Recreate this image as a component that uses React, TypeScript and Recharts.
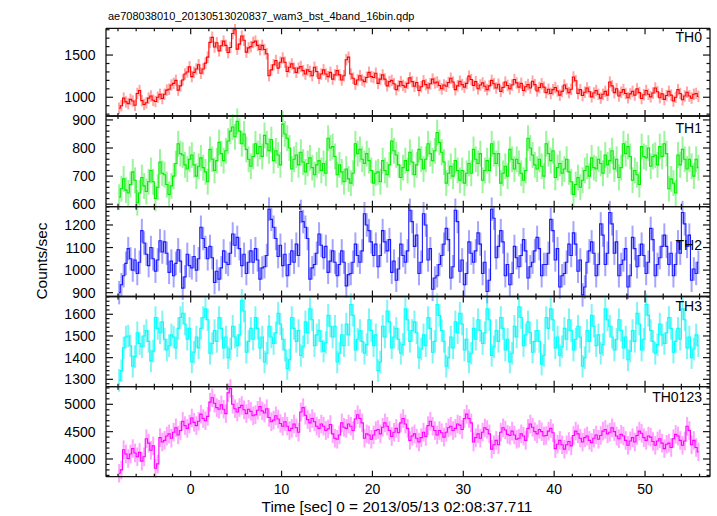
import React from "react";
import { LineChart, Line, XAxis, YAxis, ErrorBar } from "recharts";

// light curve bins: 0.25 s wide, first bin centred at -7.875 s
const BIN_START = -7.875;
const BIN_WIDTH = 0.25;

const TH0 = [
  870, 900, 990, 945, 925, 975, 955, 905, 1045, 1080, 960, 915, 935, 990, 1015, 965, 950, 1000, 1035, 985,
  1035, 1085, 1095, 1145, 1165, 1200, 1085, 1135, 1205, 1275, 1300, 1360, 1245, 1295, 1335, 1385, 1285, 1335, 1405, 1475,
  1650, 1710, 1595, 1645, 1550, 1610, 1665, 1615, 1530, 1590, 1755, 1800, 1570, 1630, 1725, 1675, 1535, 1585, 1600, 1650,
  1665, 1615, 1565, 1615, 1565, 1515, 1255, 1325, 1385, 1435, 1345, 1415, 1465, 1415, 1305, 1355, 1395, 1345, 1295, 1345,
  1365, 1315, 1275, 1325, 1305, 1255, 1355, 1305, 1225, 1275, 1325, 1275, 1245, 1295, 1215, 1265, 1315, 1265, 1205, 1255,
  1445, 1475, 1275, 1225, 1155, 1205, 1255, 1205, 1185, 1235, 1295, 1245, 1235, 1285, 1165, 1215, 1265, 1215, 1135, 1185,
  1200, 1160, 1090, 1135, 1185, 1140, 1120, 1165, 1230, 1185, 1130, 1175, 1080, 1125, 1195, 1150, 1110, 1160, 1215, 1170,
  1180, 1140, 1100, 1145, 1130, 1175, 1225, 1180, 1090, 1135, 1190, 1150, 1120, 1165, 1250, 1210, 1140, 1185, 1100, 1145,
  1170, 1130, 1090, 1135, 1200, 1160, 1110, 1155, 1070, 1115, 1180, 1140, 1100, 1145, 1210, 1170, 1120, 1165, 1080, 1125,
  1150, 1110, 1190, 1150, 1075, 1115, 1160, 1120, 1055, 1095, 1045, 1090, 1115, 1075, 1025, 1070, 1145, 1100, 1055, 1095,
  1240, 1195, 1045, 1090, 1020, 1060, 1110, 1065, 1005, 1050, 1080, 1035, 990, 1035, 1070, 1025, 1180, 1135, 1055, 1100,
  1015, 1060, 1090, 1045, 995, 1040, 1070, 1025, 1100, 1055, 985, 1030, 1080, 1035, 1005, 1050, 1110, 1065, 995, 1040,
  975, 1020, 1070, 1025, 955, 1000, 1090, 1045, 970, 1015, 1060, 1015, 990, 1035, 1045, 1010,
];

const TH1 = [
  625, 655, 690, 650, 640, 670, 715, 685, 605, 640, 695, 665, 645, 680, 720, 680, 620, 660, 750, 710,
  705, 670, 635, 665, 700, 745, 815, 780, 775, 740, 725, 760, 775, 740, 700, 735, 765, 730, 715, 680,
  795, 760, 720, 755, 820, 780, 755, 790, 825, 860, 875, 840, 895, 860, 815, 850, 795, 760, 735, 770,
  815, 780, 805, 770, 845, 815, 790, 830, 755, 790, 775, 740, 885, 850, 835, 800, 725, 760, 775, 740,
  785, 750, 715, 745, 765, 730, 705, 740, 755, 720, 745, 710, 835, 800, 805, 770, 705, 740, 715, 680,
  725, 690, 675, 710, 815, 780, 795, 760, 745, 780, 755, 720, 675, 710, 715, 680, 755, 720, 705, 740,
  825, 790, 775, 740, 695, 730, 755, 720, 785, 750, 705, 740, 795, 760, 725, 760, 815, 780, 755, 790,
  855, 820, 785, 750, 675, 710, 735, 700, 755, 720, 685, 720, 675, 710, 745, 710, 795, 760, 745, 780,
  685, 720, 755, 720, 815, 780, 745, 780, 675, 710, 735, 700, 795, 760, 725, 760, 745, 710, 685, 720,
  835, 800, 775, 740, 725, 760, 735, 700, 815, 780, 755, 790, 695, 730, 745, 710, 725, 760, 715, 680,
  635, 670, 695, 660, 685, 720, 735, 700, 765, 730, 725, 760, 745, 710, 775, 740, 755, 790, 725, 760,
  695, 730, 815, 780, 805, 770, 685, 720, 705, 670, 805, 770, 765, 800, 735, 770, 775, 740, 805, 770,
  815, 780, 655, 690, 675, 640, 775, 740, 795, 760, 725, 760, 735, 700, 760, 730,
];

const TH2 = [
  900, 935, 975, 1030, 1095, 1050, 1000, 1045, 985, 1035, 1175, 1120, 1070, 1020, 1100, 1050, 995, 1045, 1130, 1080,
  1125, 1075, 990, 1040, 975, 1030, 1090, 1040, 920, 970, 1070, 1020, 1010, 1060, 1000, 1050, 1190, 1140, 1100, 1050,
  1105, 1055, 945, 995, 960, 1010, 1085, 1035, 1025, 1075, 1160, 1110, 1145, 1095, 1020, 1070, 985, 1035, 1085, 1035,
  1095, 1045, 960, 1010, 1015, 1065, 1270, 1225, 1190, 1140, 1060, 1110, 1020, 1070, 975, 1025, 1085, 1035, 1115, 1065,
  1260, 1215, 1190, 1140, 960, 1010, 1025, 1075, 1160, 1110, 1055, 1105, 990, 1040, 1085, 1035, 975, 1025, 1085, 1035,
  930, 980, 985, 1035, 1115, 1065, 1035, 1085, 1250, 1200, 1175, 1125, 1065, 1115, 1015, 1065, 1175, 1125, 1085, 1135,
  990, 1040, 955, 1005, 1115, 1065, 1035, 1085, 1265, 1215, 1105, 1155, 985, 1035, 1250, 1200, 1045, 1095, 915, 965,
  975, 1025, 1065, 1115, 1185, 1135, 965, 1015, 1265, 1215, 995, 1045, 935, 985, 1125, 1075, 1035, 1085, 1165, 1115,
  985, 1035, 905, 955, 1270, 1230, 1055, 1105, 1175, 1125, 975, 1025, 935, 985, 1105, 1055, 1015, 1065, 1135, 1085,
  965, 1015, 1035, 1085, 1145, 1095, 975, 1025, 1025, 1075, 1225, 1175, 1045, 1095, 925, 975, 985, 1035, 1115, 1065,
  1165, 1115, 995, 1045, 890, 925, 1035, 1085, 1125, 1075, 975, 1025, 1205, 1155, 1025, 1075, 1255, 1205, 1075, 1125,
  975, 1025, 1045, 1095, 925, 975, 1145, 1095, 1015, 1065, 1115, 1065, 985, 1035, 1185, 1135, 975, 1025, 1055, 1105,
  1155, 1105, 1025, 1075, 975, 1025, 1125, 1075, 1255, 1205, 1105, 1155, 955, 1005, 985, 1035,
];

const TH3 = [
  1295, 1340, 1445, 1495, 1500, 1455, 1360, 1405, 1515, 1465, 1450, 1500, 1525, 1475, 1385, 1430, 1585, 1535, 1515, 1565,
  1485, 1435, 1455, 1505, 1495, 1445, 1535, 1585, 1605, 1555, 1485, 1535, 1380, 1425, 1495, 1445, 1535, 1585, 1625, 1575,
  1420, 1465, 1525, 1475, 1585, 1535, 1445, 1495, 1400, 1440, 1545, 1495, 1455, 1505, 1665, 1615, 1425, 1475, 1535, 1485,
  1585, 1535, 1445, 1495, 1380, 1420, 1545, 1495, 1465, 1515, 1605, 1555, 1485, 1435, 1350, 1390, 1585, 1535, 1475, 1525,
  1410, 1450, 1565, 1515, 1625, 1575, 1455, 1505, 1525, 1475, 1430, 1470, 1595, 1545, 1495, 1545, 1380, 1420, 1505, 1455,
  1555, 1505, 1645, 1595, 1435, 1485, 1525, 1475, 1420, 1460, 1575, 1525, 1455, 1505, 1340, 1380, 1545, 1495, 1615, 1565,
  1445, 1495, 1535, 1485, 1420, 1460, 1625, 1575, 1475, 1525, 1565, 1515, 1400, 1440, 1505, 1455, 1585, 1535, 1425, 1475,
  1645, 1595, 1525, 1475, 1360, 1400, 1495, 1445, 1565, 1515, 1605, 1555, 1435, 1485, 1380, 1420, 1535, 1485, 1575, 1525,
  1465, 1515, 1625, 1575, 1410, 1450, 1525, 1475, 1585, 1535, 1435, 1485, 1380, 1420, 1545, 1495, 1635, 1585, 1455, 1505,
  1565, 1515, 1425, 1475, 1525, 1475, 1370, 1410, 1585, 1535, 1625, 1575, 1445, 1495, 1410, 1450, 1535, 1485, 1575, 1525,
  1435, 1485, 1545, 1495, 1360, 1400, 1525, 1475, 1595, 1545, 1455, 1505, 1420, 1460, 1625, 1575, 1545, 1495, 1435, 1485,
  1575, 1525, 1445, 1495, 1390, 1430, 1525, 1475, 1605, 1555, 1435, 1485, 1645, 1595, 1525, 1475, 1420, 1460, 1555, 1505,
  1465, 1515, 1585, 1535, 1425, 1475, 1535, 1485, 1625, 1575, 1445, 1495, 1400, 1440, 1505, 1455,
];

const TH0123 = [
  3740, 3800, 4170, 4090, 4010, 4090, 4190, 4110, 4040, 4120, 3960, 4040, 4370, 4290, 4160, 4240, 3830, 3910, 4390, 4310,
  4340, 4420, 4460, 4380, 4490, 4570, 4440, 4520, 4690, 4610, 4560, 4640, 4750, 4670, 4610, 4690, 4820, 4740, 4700, 4780,
  5040, 5120, 5020, 4940, 4910, 4990, 4910, 4830, 5210, 5290, 5000, 4920, 4860, 4940, 4980, 4900, 4830, 4910, 4870, 4790,
  4810, 4890, 4960, 4880, 4840, 4920, 4760, 4680, 4710, 4790, 4730, 4650, 4600, 4680, 4600, 4520, 4560, 4640, 4570, 4490,
  4860, 4940, 4800, 4720, 4660, 4740, 4680, 4600, 4560, 4640, 4600, 4520, 4550, 4630, 4460, 4380, 4360, 4440, 4660, 4580,
  4560, 4640, 4600, 4520, 4730, 4810, 4740, 4660, 4380, 4460, 4440, 4360, 4440, 4520, 4540, 4460, 4580, 4660, 4600, 4520,
  4410, 4490, 4560, 4480, 4660, 4740, 4640, 4560, 4340, 4420, 4460, 4380, 4310, 4390, 4490, 4410, 4610, 4690, 4600, 4520,
  4440, 4520, 4480, 4400, 4490, 4570, 4600, 4520, 4560, 4640, 4620, 4540, 4740, 4820, 4740, 4660, 4310, 4390, 4460, 4380,
  4490, 4570, 4540, 4460, 4180, 4260, 4340, 4260, 4490, 4570, 4530, 4450, 4430, 4510, 4440, 4360, 4380, 4460, 4420, 4340,
  4560, 4640, 4580, 4500, 4460, 4540, 4500, 4420, 4430, 4510, 4560, 4480, 4190, 4270, 4340, 4260, 4180, 4260, 4320, 4240,
  4430, 4510, 4460, 4380, 4310, 4390, 4420, 4340, 4300, 4380, 4440, 4360, 4430, 4510, 4540, 4460, 4490, 4570, 4500, 4420,
  4370, 4450, 4420, 4340, 4250, 4330, 4390, 4310, 4430, 4510, 4470, 4390, 4340, 4420, 4400, 4320, 4250, 4330, 4370, 4290,
  4190, 4270, 4290, 4210, 4370, 4450, 4420, 4340, 4250, 4330, 4600, 4520, 4260, 4340, 4210, 4130,
];

// 1-sigma errors per band (counts/sec)
const ERR = [68, 46, 52, 52, 170];

const X_MAJOR = [0, 10, 20, 30, 40, 50];
const X_LABELS = ["0", "10", "20", "30", "40", "50"];

const steps = (a: number, b: number, s: number) => {
  const out: number[] = [];
  for (let v = a; v <= b + 1e-9; v += s) out.push(Math.round(v * 100) / 100);
  return out;
};

const W = 717;
const H = 516;
const LEFT = 106;
const RIGHT = 710;
const X_DOMAIN = [-9.32, 57.15];
const X_TICKS = steps(-8, 56, 2);
const FONT = '"Liberation Sans", Arial, Helvetica, sans-serif';

const PANELS = [
  { name: "TH0", values: TH0, err: ERR[0], color: "#ff0000", bar: "rgba(255,40,40,0.42)", top: 28.3, bottom: 116, domain: [778, 1817], major: [1000, 1500], minor: steps(800, 1800, 100), labelY: 41.7 },
  { name: "TH1", values: TH1, err: ERR[1], color: "#00ee00", bar: "rgba(20,230,20,0.42)", top: 116, bottom: 206.7, domain: [591, 914], major: [600, 700, 800, 900], minor: steps(600, 900, 20), labelY: 133.3 },
  { name: "TH2", values: TH2, err: ERR[2], color: "#1a1aff", bar: "rgba(40,40,255,0.42)", top: 206.7, bottom: 296.5, domain: [883, 1281], major: [900, 1000, 1100, 1200], minor: steps(900, 1280, 20), labelY: 250 },
  { name: "TH3", values: TH3, err: ERR[3], color: "#00ffff", bar: "rgba(0,235,235,0.5)", top: 296.5, bottom: 386.7, domain: [1266, 1682], major: [1300, 1400, 1500, 1600], minor: steps(1280, 1680, 20), labelY: 311 },
  { name: "TH0123", values: TH0123, err: ERR[4], color: "#ff00ff", bar: "rgba(255,40,255,0.42)", top: 386.7, bottom: 476.7, domain: [3676, 5322], major: [4000, 4500, 5000], minor: steps(3700, 5300, 100), labelY: 401.7 },
];

const FRAME = { stroke: "#111", strokeWidth: 1.3 };

function Panel({ p, last }: { p: (typeof PANELS)[number]; last: boolean }) {
  const data = p.values.map((v, i) => ({ t: BIN_START + i * BIN_WIDTH, v, e: p.err }));

  const bottomTick = (props: any) => {
    const v = props.payload.value;
    const x = props.x;
    const major = X_MAJOR.includes(v);
    const len = major ? 6 : 3;
    return (
      <g>
        <line x1={x} x2={x} y1={p.bottom} y2={p.bottom - len} stroke="#111" strokeWidth={1.2} />
        {last && major && (
          <text x={x} y={p.bottom + 17} textAnchor="middle" fontSize={14} fontFamily={FONT} fill="#000">
            {X_LABELS[X_MAJOR.indexOf(v)]}
          </text>
        )}
      </g>
    );
  };

  const topTick = (props: any) => {
    const v = props.payload.value;
    const len = X_MAJOR.includes(v) ? 6 : 3;
    return <line x1={props.x} x2={props.x} y1={p.top} y2={p.top + len} stroke="#111" strokeWidth={1.2} />;
  };

  const leftTick = (props: any) => {
    const v = props.payload.value;
    const y = props.y;
    const major = p.major.includes(v);
    return (
      <g>
        <line x1={LEFT} x2={LEFT + (major ? 7 : 3.5)} y1={y} y2={y} stroke="#111" strokeWidth={1.2} />
        {major && (
          <text x={95.5} y={y + 5} textAnchor="end" fontSize={14} fontFamily={FONT} fill="#000">
            {v}
          </text>
        )}
      </g>
    );
  };

  const rightTick = (props: any) => {
    const v = props.payload.value;
    const len = p.major.includes(v) ? 7 : 3.5;
    return <line x1={RIGHT} x2={RIGHT - len} y1={props.y} y2={props.y} stroke="#111" strokeWidth={1.2} />;
  };

  const yTicks = Array.from(new Set([...p.minor, ...p.major])).sort((a, b) => a - b);

  // axes need a non-zero thickness to be drawn; margins absorb that 1px
  return (
    <div style={{ position: "absolute", left: 0, top: 0 }}>
      <LineChart
        width={W}
        height={H}
        data={data}
        margin={{ top: p.top - 1, bottom: H - p.bottom - 1, left: LEFT - 1, right: W - RIGHT - 1 }}
      >
        <XAxis xAxisId="b" dataKey="t" type="number" domain={X_DOMAIN} allowDataOverflow ticks={X_TICKS} interval={0} height={1} tickSize={0} tickMargin={0} tickLine={false} tick={bottomTick} axisLine={FRAME} />
        <XAxis xAxisId="t" orientation="top" dataKey="t" type="number" domain={X_DOMAIN} allowDataOverflow ticks={X_TICKS} interval={0} height={1} tickSize={0} tickMargin={0} tickLine={false} tick={topTick} axisLine={FRAME} />
        <YAxis yAxisId="l" type="number" domain={p.domain} allowDataOverflow ticks={yTicks} interval={0} width={1} tickSize={0} tickMargin={0} tickLine={false} tick={leftTick} axisLine={FRAME} />
        <YAxis yAxisId="r" orientation="right" type="number" domain={p.domain} allowDataOverflow ticks={yTicks} interval={0} width={1} tickSize={0} tickMargin={0} tickLine={false} tick={rightTick} axisLine={FRAME} />
        <Line
          xAxisId="b"
          yAxisId="l"
          type="step"
          dataKey="v"
          stroke={p.color}
          strokeWidth={1.1}
          dot={false}
          isAnimationActive={false}
        >
          <ErrorBar dataKey="e" width={0} stroke={p.bar} strokeWidth={2} direction="y" />
        </Line>
        <Line xAxisId="t" yAxisId="r" dataKey="v" stroke="none" dot={false} isAnimationActive={false} />
      </LineChart>
    </div>
  );
}

export default function App() {
  return (
    <div style={{ position: "absolute", left: 0, top: 0, width: W, height: H, background: "#fff", overflow: "hidden" }}>
      {PANELS.map((p, i) => (
        <Panel key={p.name} p={p} last={i === PANELS.length - 1} />
      ))}
      <svg width={W} height={H} style={{ position: "absolute", left: 0, top: 0, pointerEvents: "none" }}>
        <text x={108} y={20} fontSize={11} fontFamily={FONT} fill="#000">
          ae708038010_20130513020837_wam3_bst_4band_16bin.qdp
        </text>
        {PANELS.map((p) => (
          <text key={p.name} x={702} y={p.labelY} textAnchor="end" fontSize={14} fontFamily={FONT} fill="#000">
            {p.name}
          </text>
        ))}
        <text x={46.5} y={261} transform="rotate(-90 46.5 261)" textAnchor="middle" fontSize={15.4} fontFamily={FONT} fill="#000">
          Counts/sec
        </text>
        <text x={397} y={511.5} textAnchor="middle" fontSize={15.4} fontFamily={FONT} fill="#000">
          Time [sec] 0 = 2013/05/13 02:08:37.711
        </text>
      </svg>
    </div>
  );
}
